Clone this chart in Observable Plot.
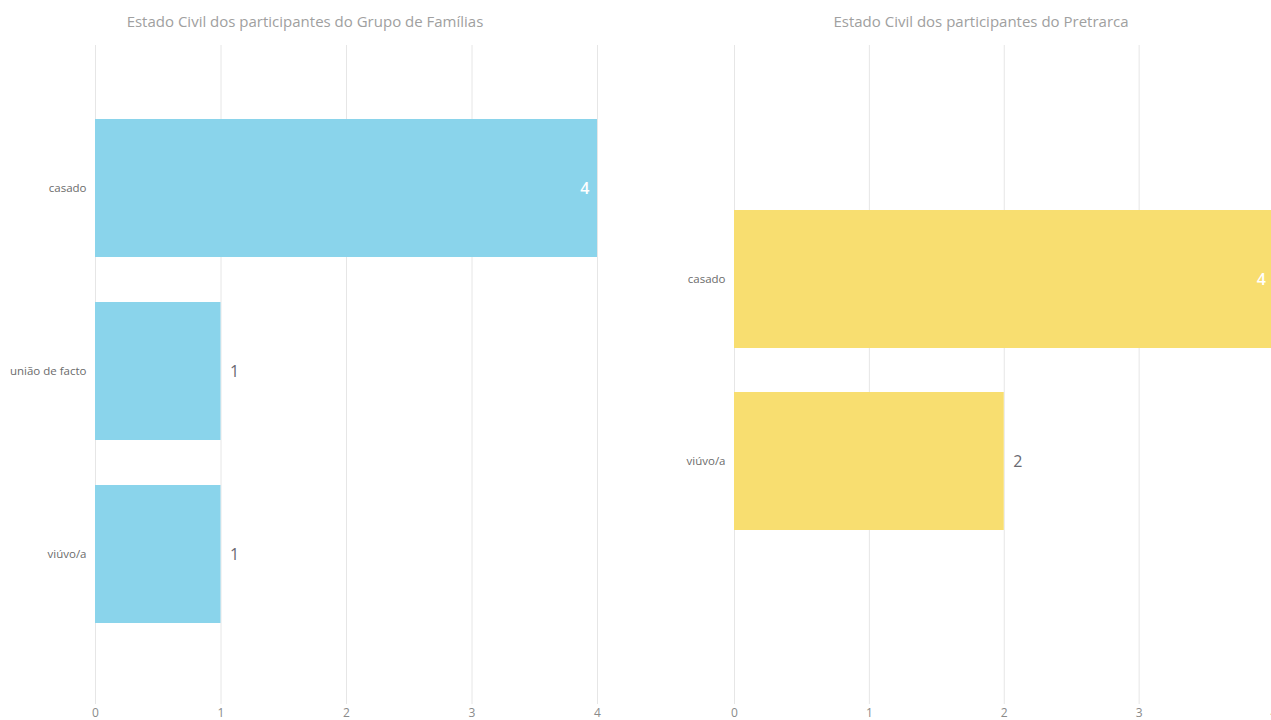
<!DOCTYPE html>
<html>
<head>
<meta charset="utf-8">
<script src="https://cdn.jsdelivr.net/npm/d3@7"></script>
<script src="https://cdn.jsdelivr.net/npm/@observablehq/plot@0.6"></script>
<style>
  html, body { margin: 0; padding: 0; background: #fff; width: 1271px; height: 720px; overflow: hidden; }
  body { position: relative; font-family: "Open Sans", sans-serif; }
  .panel { position: absolute; top: 0; height: 720px; }
  .panel svg { max-width: none !important; display: block; }
  .title { position: absolute; top: 11px; font-size: 15px; color: #a0a0a0; white-space: nowrap; transform: translateX(-50%); }
</style>
</head>
<body>
<div id="p1" class="panel" style="left:0px; width:620px"></div>
<div id="p2" class="panel" style="left:640px; width:660px"></div>
<div class="title" style="left:305px">Estado Civil dos participantes do Grupo de Famílias</div>
<div class="title" style="left:981px">Estado Civil dos participantes do Pretrarca</div>
<script>
const categoriesFamilias = ["casado", "união de facto", "viúvo/a"];
const valuesFamilias = [4, 1, 1];
const categoriesPretrarca = ["casado", "viúvo/a"];
const valuesPretrarca = [4, 2];
const xTicks = [0, 1, 2, 3, 4];
const xMax = 4;

function panel(cats, vals, color, opts) {
  const data = cats.map((c, i) => ({cat: c, value: vals[i]}));
  const inside = data.filter(d => d.value === xMax);
  const outside = data.filter(d => d.value !== xMax);
  return Plot.plot({
    width: opts.width,
    height: 720,
    marginLeft: opts.marginLeft,
    marginRight: opts.marginRight,
    marginTop: 45,
    marginBottom: 16,
    style: {fontFamily: "'Open Sans', sans-serif", background: "transparent", maxWidth: "none"},
    x: {domain: [0, xMax], ticks: xTicks, tickFormat: d3.format("d"), label: null},
    y: {domain: cats, range: opts.yRange, paddingInner: opts.pi, paddingOuter: opts.po, label: null},
    marks: [
      Plot.gridX(xTicks, {stroke: "#e6e6e6", strokeOpacity: 1, strokeWidth: 1}),
      Plot.axisX({ticks: xTicks, tickSize: 0, tickPadding: 4, fontSize: 12, fill: "#8a8a8a", tickFormat: d3.format("d"), label: null}),
      Plot.axisY({tickSize: 0, tickPadding: 9, fontSize: 11.5, fill: "#6b6b6b", label: null}),
      Plot.barX(data, {y: "cat", x: "value", fill: color}),
      Plot.text(inside, {y: "cat", x: "value", text: d => String(d.value), textAnchor: "end", dx: -8, fill: "#ffffff", fontSize: 16, fontWeight: 600}),
      Plot.text(outside, {y: "cat", x: "value", text: d => String(d.value), textAnchor: "start", dx: 9, fill: "#6a6a72", fontSize: 16})
    ]
  });
}

document.getElementById("p1").appendChild(panel(categoriesFamilias, valuesFamilias, "#8AD4EB",
  {width: 620, marginLeft: 95, marginRight: 23, yRange: [41, 701], pi: 0.246, po: 0.426}));
document.getElementById("p2").appendChild(panel(categoriesPretrarca, valuesPretrarca, "#F8DE70",
  {width: 660, marginLeft: 94, marginRight: 26.5, yRange: [40, 700], pi: 0.24, po: 0.925}));
</script>
</body>
</html>
